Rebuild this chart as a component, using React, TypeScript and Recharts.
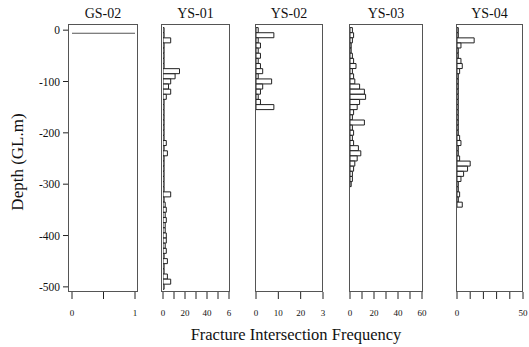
import React from "react";
import { BarChart, Bar, XAxis, YAxis } from "recharts";

// depth bins (m, GL) shared by the YS boreholes
const depthBins = [
  0, -10, -20, -30, -40, -50, -60, -70, -80, -90,
  -100, -110, -120, -130, -140, -150, -160, -170, -180, -190,
  -200, -210, -220, -230, -240, -250, -260, -270, -280, -290,
  -300, -310, -320, -330, -340, -350, -360, -370, -380, -390,
  -400, -410, -420, -430, -440, -450, -460, -470, -480, -490,
  -500,
];

const gs02Depths = [-5];
const gs02Freq = [1];

const ys01Freq = [
  1, 1, 7, 1, 1, 1, 1, 1, 15, 11,
  7, 5, 7, 3, 1, 1, 1, 1, 1, 1,
  1, 1, 3, 1, 4, 1, 1, 1, 1, 1,
  1, 1, 7, 1, 2, 3, 2, 3, 2, 2,
  3, 3, 2, 3, 1, 4, 1, 1, 4, 7,
  1,
];
const ys02Freq = [
  1, 8, 1, 2, 1, 2, 1, 2, 3, 1,
  7, 3, 2, 1, 2, 8, 0, 0, 0, 0,
  0, 0, 0, 0, 0, 0, 0, 0, 0, 0,
  0, 0, 0, 0, 0, 0, 0, 0, 0, 0,
  0, 0, 0, 0, 0, 0, 0, 0, 0, 0,
  0,
];
const ys03Freq = [
  2, 3, 2, 1, 1, 2, 3, 5, 2, 3,
  4, 8, 12, 13, 8, 6, 3, 2, 12, 2,
  3, 2, 3, 7, 9, 6, 4, 3, 2, 2,
  1, 0, 0, 0, 0, 0, 0, 0, 0, 0,
  0, 0, 0, 0, 0, 0, 0, 0, 0, 0,
  0,
];
const ys04Freq = [
  1, 1, 13, 3, 1, 1, 3, 4, 2, 1,
  1, 1, 1, 1, 1, 1, 1, 1, 1, 1,
  1, 2, 3, 1, 1, 2, 10, 8, 5, 3,
  1, 1, 2, 1, 4, 0, 0, 0, 0, 0,
  0, 0, 0, 0, 0, 0, 0, 0, 0, 0,
  0,
];

const depthTicks = [0, -100, -200, -300, -400, -500];

const gs02Ticks = [0, 0.5, 1];
const gs02Labels = ["0", "", "1"];
const ys01Ticks = [0, 10, 20, 30, 40, 50, 60];
const ys01Labels = ["0", "", "20", "", "40", "", "6"];
const ys02Ticks = [0, 10, 20, 30];
const ys02Labels = ["0", "10", "20", "3"];
const ys03Ticks = [0, 10, 20, 30, 40, 50, 60];
const ys03Labels = ["0", "", "20", "", "40", "", "60"];
const ys04Ticks = [0, 10, 20, 30, 40, 50];
const ys04Labels = ["0", "", "", "", "", "50"];

const FONT = "'Liberation Serif', 'Times New Roman', serif";
const TOP = 24;
const BOTTOM = 292;
const CHART_H = 330;

interface PanelProps {
  title: string;
  depths: number[];
  values: number[];
  ticks: number[];
  labels: string[];
  left: number;
  right: number;
  pad: { left: number; right: number };
  barSize: number;
  showDepth?: boolean;
  line?: boolean;
}

function Panel({ title, depths, values, ticks, labels, left, right, pad, barSize, showDepth, line }: PanelProps) {
  const data = depths.map((d, i) => ({ depth: d, freq: values[i] }));
  const yw = showDepth ? left : 0;
  const side = 8;
  const chartLeft = showDepth ? 0 : left - side;
  const width = right - chartLeft + side;

  return (
    <>
      <div
        style={{
          position: "absolute",
          left: left,
          width: right - left,
          top: 6,
          textAlign: "center",
          fontFamily: FONT,
          fontSize: 14,
          color: "#111",
        }}
      >
        {title}
      </div>
      <div style={{ position: "absolute", left: chartLeft, top: 0 }}>
        <BarChart
          layout="vertical"
          width={width}
          height={CHART_H}
          data={data}
          margin={{ top: TOP, right: side, bottom: 0, left: showDepth ? 0 : side }}
        >
          <XAxis
            type="number"
            dataKey="freq"
            domain={[ticks[0], ticks[ticks.length - 1]]}
            ticks={ticks}
            interval={0}
            allowDataOverflow
            padding={pad}
            height={CHART_H - BOTTOM}
            axisLine={false}
            tickSize={7}
            tickMargin={11}
            tickLine={{ stroke: "#222" }}
            tick={{ fontSize: 9, fill: "#111", fontFamily: FONT }}
            tickFormatter={(v: number) => labels[ticks.indexOf(v)] ?? ""}
          />
          <YAxis
            type="number"
            dataKey="depth"
            domain={[-510, 12]}
            reversed
            ticks={depthTicks}
            interval={0}
            hide={!showDepth}
            width={yw}
            axisLine={false}
            tickSize={5}
            tickMargin={3}
            tickLine={{ stroke: "#222" }}
            tick={{ fontSize: 11.5, fill: "#111", fontFamily: FONT }}
          />
          <Bar
            dataKey="freq"
            barSize={barSize}
            fill={line ? "#555" : "#fff"}
            stroke={line ? "none" : "#222"}
            strokeWidth={1}
            isAnimationActive={false}
          />
        </BarChart>
      </div>
      <div
        style={{
          position: "absolute",
          left: left,
          top: TOP,
          width: right - left,
          height: BOTTOM - TOP,
          border: "1px solid #555",
          boxSizing: "border-box",
          pointerEvents: "none",
        }}
      />
    </>
  );
}

export default function App() {
  return (
    <div
      style={{
        position: "absolute",
        left: 0,
        top: 0,
        width: 529,
        height: 347,
        background: "#fff",
        overflow: "hidden",
      }}
    >
      <Panel title="GS-02" depths={gs02Depths} values={gs02Freq} ticks={gs02Ticks} labels={gs02Labels}
        left={68} right={138} pad={{ left: 4, right: 3 }} barSize={1} showDepth line />
      <Panel title="YS-01" depths={depthBins} values={ys01Freq} ticks={ys01Ticks} labels={ys01Labels}
        left={161} right={230} pad={{ left: 2, right: 1 }} barSize={5} />
      <Panel title="YS-02" depths={depthBins} values={ys02Freq} ticks={ys02Ticks} labels={ys02Labels}
        left={255} right={323} pad={{ left: 1, right: 0 }} barSize={5} />
      <Panel title="YS-03" depths={depthBins} values={ys03Freq} ticks={ys03Ticks} labels={ys03Labels}
        left={349} right={423} pad={{ left: 1, right: 1 }} barSize={5} />
      <Panel title="YS-04" depths={depthBins} values={ys04Freq} ticks={ys04Ticks} labels={ys04Labels}
        left={456} right={523} pad={{ left: 1, right: 0 }} barSize={5} />
      <div
        style={{
          position: "absolute",
          left: 18 - 70,
          top: 162 - 11,
          width: 140,
          height: 22,
          lineHeight: "22px",
          textAlign: "center",
          transform: "rotate(-90deg)",
          fontFamily: FONT,
          fontSize: 17,
          color: "#111",
        }}
      >
        Depth (GL.m)
      </div>
      <div
        style={{
          position: "absolute",
          left: 146,
          width: 300,
          top: 325,
          textAlign: "center",
          fontFamily: FONT,
          fontSize: 16.5,
          color: "#111",
        }}
      >
        Fracture Intersection Frequency
      </div>
    </div>
  );
}
